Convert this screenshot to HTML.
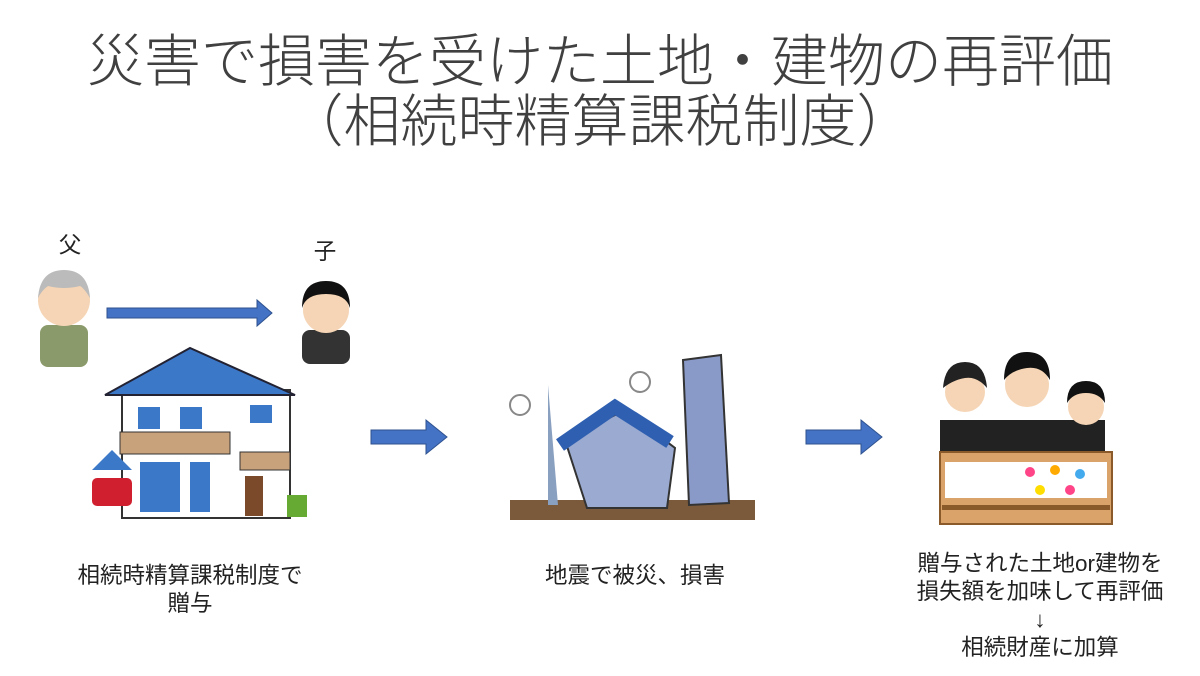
<!DOCTYPE html>
<html><head><meta charset="utf-8"><style>
body{margin:0;width:1200px;height:676px;background:#fff;position:relative;overflow:hidden;font-family:"Liberation Sans","Noto Sans CJK JP",sans-serif;color:#333}
.t{position:absolute;left:0;width:1200px;text-align:center;font-size:57px;color:#404040;line-height:1;font-weight:300}
.l{position:absolute;font-size:22.5px;text-align:center;line-height:28px;color:#222}
svg{position:absolute;left:0;top:0}
</style></head><body>
<div class="t" style="top:34px">災害で損害を受けた土地・建物の再評価</div>
<div class="t" style="top:94px">（相続時精算課税制度）</div>
<div class="l" style="left:58px;top:232px;width:24px">父</div>
<div class="l" style="left:313px;top:238px;width:24px">子</div>
<svg width="1200" height="676">
<path d="M107 308h150v-8l15 13-15 13v-8H107z" fill="#4472c4" stroke="#2f528f"/>
<path d="M371 430h55v-10l21 17-21 17v-10h-55z" fill="#4472c4" stroke="#2f528f"/>
<path d="M806 430h55v-10l21 17-21 17v-10h-55z" fill="#4472c4" stroke="#2f528f"/>
<rect x="40" y="325" width="48" height="42" rx="8" fill="#8a9a6a"/>
<circle cx="64" cy="300" r="26" fill="#f5d5b5"/>
<path d="M38 298q2-28 26-28t26 28q-6-10-10-12-16 4-32 0-6 4-10 12z" fill="#bbb"/>
<rect x="302" y="330" width="48" height="34" rx="8" fill="#333"/>
<circle cx="326" cy="310" r="23" fill="#f5d5b5"/>
<path d="M302 308q0-27 24-27t24 27q-4-14-24-14t-24 14z" fill="#111"/>
<rect x="122" y="390" width="168" height="128" fill="#fff" stroke="#333" stroke-width="2"/>
<path d="M105 395l85-47 105 47z" fill="#3c78c8" stroke="#223" stroke-width="2"/>
<rect x="120" y="432" width="110" height="22" fill="#c8a27a" stroke="#333"/>
<rect x="138" y="407" width="22" height="22" fill="#3c78c8"/><rect x="180" y="407" width="22" height="22" fill="#3c78c8"/><rect x="250" y="405" width="22" height="18" fill="#3c78c8"/>
<rect x="140" y="462" width="40" height="50" fill="#3c78c8"/><rect x="190" y="462" width="20" height="50" fill="#3c78c8"/>
<rect x="240" y="452" width="50" height="18" fill="#c8a27a" stroke="#333"/>
<rect x="245" y="476" width="18" height="40" fill="#7a4a2a"/>
<path d="M92 470l20-20 20 20z" fill="#3c78c8"/>
<rect x="92" y="478" width="40" height="28" rx="5" fill="#d02030"/>
<rect x="287" y="495" width="20" height="22" fill="#6a3"/>
<rect x="510" y="500" width="245" height="20" fill="#7a5a3a"/>
<path d="M548 385l10 120h-10z" fill="#8aa0c0"/>
<path d="M565 440l60-30 50 38-8 60-80 0z" fill="#9aaad0" stroke="#333" stroke-width="2"/>
<path d="M560 445l55-38 55 35" fill="none" stroke="#2f5fb0" stroke-width="14"/>
<path d="M683 360l38-5 8 148-40 2z" fill="#8a9ac8" stroke="#333" stroke-width="2"/>
<circle cx="520" cy="405" r="10" fill="none" stroke="#888" stroke-width="2"/>
<circle cx="640" cy="382" r="10" fill="none" stroke="#888" stroke-width="2"/>
<rect x="940" y="420" width="165" height="40" fill="#222"/>
<circle cx="965" cy="392" r="20" fill="#f5d5b5"/><path d="M943 388q2-26 22-26t22 26q-10-12-22-10t-22 10z" fill="#222"/>
<circle cx="1027" cy="385" r="22" fill="#f5d5b5"/><path d="M1004 380q0-28 23-28t23 28q-8-14-23-12t-23 12z" fill="#111"/>
<circle cx="1086" cy="407" r="18" fill="#f5d5b5"/><path d="M1067 403q0-22 19-22t19 22q-6-10-19-10t-19 10z" fill="#111"/>
<rect x="940" y="452" width="172" height="72" fill="#d9a36a" stroke="#8a5a2a" stroke-width="2"/>
<rect x="945" y="462" width="162" height="36" fill="#fff"/>
<circle cx="1030" cy="472" r="5" fill="#f48"/><circle cx="1055" cy="470" r="5" fill="#fa0"/><circle cx="1080" cy="474" r="5" fill="#4ae"/><circle cx="1040" cy="490" r="5" fill="#fd0"/><circle cx="1070" cy="490" r="5" fill="#f48"/>
<rect x="942" y="505" width="168" height="5" fill="#8a5a2a"/>
</svg>
<div class="l" style="left:40px;top:562px;width:300px">相続時精算課税制度で<br>贈与</div>
<div class="l" style="left:485px;top:562px;width:300px">地震で被災、損害</div>
<div class="l" style="left:890px;top:550px;width:300px">贈与された土地or建物を<br>損失額を加味して再評価<br>↓<br>相続財産に加算</div>
</body></html>
